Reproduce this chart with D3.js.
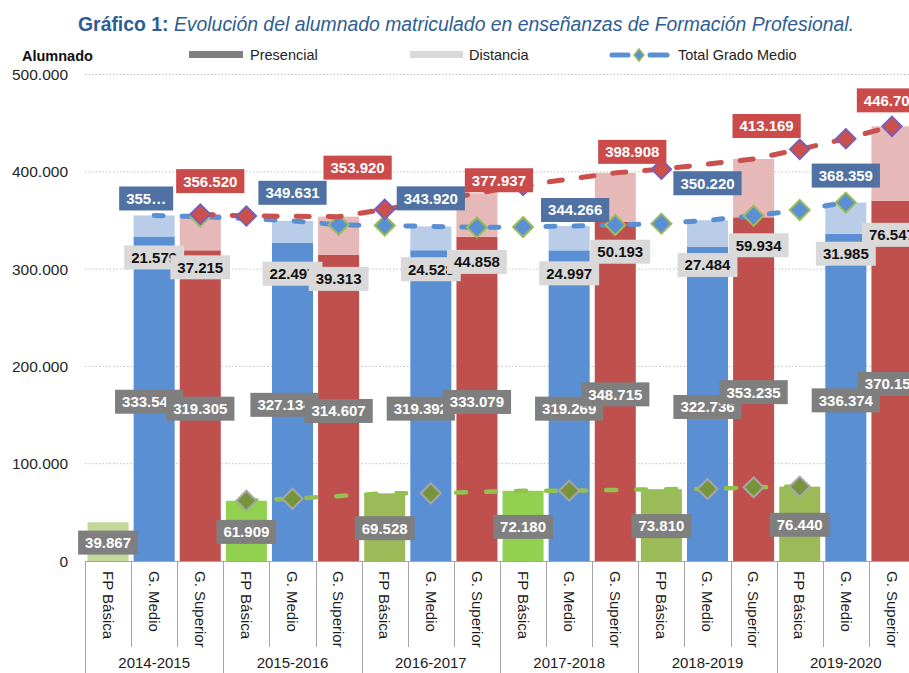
<!DOCTYPE html>
<html>
<head>
<meta charset="utf-8">
<script src="https://cdn.jsdelivr.net/npm/d3@7"></script>
<style>
  body { margin: 0; background: #fff; }
  svg { display: block; font-family: Arial, "Liberation Sans", sans-serif; }
</style>
</head>
<body>
<svg id="chart" width="909" height="673"></svg>
<script>
// ---- data ----
const years = ["2014-2015", "2015-2016", "2016-2017", "2017-2018", "2018-2019", "2019-2020"];
const levels = ["FP Básica", "G. Medio", "G. Superior"];

const fpBasica = [39867, 61909, 69528, 72180, 73810, 76440];
const medioPresencial = [333541, 327134, 319392, 319269, 322736, 336374];
const medioDistancia = [21579, 22497, 24528, 24997, 27484, 31985];
const superiorPresencial = [319305, 314607, 333079, 348715, 353235, 370157];
const superiorDistancia = [37215, 39313, 44858, 50193, 59934, 76547];

const yTicks = [0, 100000, 200000, 300000, 400000, 500000];

// dashed total lines: category index (0..17), value, marker shown
const lineMedioCats = [1, 2, 4, 5, 6, 7, 8, 9, 10, 11, 12, 13, 14, 15, 16];
const lineMedioVals = [355120, 354000, 349631, 345500, 344800, 343920, 342800, 343200, 344266, 345300, 346700, 350220, 354800, 360700, 368359];
const lineMedioMarks = [0, 1, 0, 1, 1, 0, 1, 1, 0, 1, 1, 0, 1, 1, 1];

const lineSuperiorCats = [2, 3, 5, 6, 8, 9, 11, 12, 14, 15, 16, 17];
const lineSuperiorVals = [356520, 354600, 353920, 361400, 377937, 386000, 398908, 402600, 413169, 423100, 434000, 446704];
const lineSuperiorMarks = [1, 1, 0, 1, 0, 1, 0, 1, 0, 1, 1, 1];

const lineBasicaCats = [3, 4, 6, 7, 9, 10, 12, 13, 14, 15];
const lineBasicaVals = [61909, 64000, 69528, 69600, 72180, 72300, 73810, 74000, 75750, 76440];
const lineBasicaMarks = [1, 1, 0, 1, 0, 1, 0, 1, 1, 1];

// ---- derived ----
const medioTotal = medioPresencial.map((v, i) => v + medioDistancia[i]);
const superiorTotal = superiorPresencial.map((v, i) => v + superiorDistancia[i]);

const fmt = d3.formatLocale({ decimal: ",", thousands: ".", grouping: [3], currency: ["", "€"] }).format(",d");
const medioTotalText = medioTotal.map(fmt);
medioTotalText[0] = "355…";

// ---- styles ----
const basicaColors = ["#c4d79b", "#92d050", "#9bbb59", "#92d050", "#9bbb59", "#9bbb59"];
const C = {
  medio: "#5a8fd3", medioLight: "#b9cde8",
  sup: "#c0504d", supLight: "#e6b9b8",
  lineMedio: "#5a8fd3", lineSup: "#c9504d", lineBas: "#92c14f",
  grayBox: "#7f7f7f", lightBox: "#d9d9d9",
  blueBox: "#4f71a3", redBox: "#cb4a4a",
  axis: "#a6a6a6", grid: "#bfbfbf", title: "#2f5d93"
};

// label nudges (px)
const presDx = { medio: [-5, -8, -10, 0, 0, 0], sup: [0, 0, 0, 0, 0, 0] };
const distDy = { medio: [21, 31, 19, 23, 18, 20], sup: [17, 24, 25, 30, 28, 34] };
const distDx = { medio: [0, 0, 0, 0, 0, 0], sup: [0, 0, 0, 5, 5, 0] };
const totDx = { medio: [-8, 0, 0, 6, 0, 0], sup: [10, 19, 22, 17, 13, -1] };
const totDy = { medio: [-17, -28, -28, -16, -37, -27], sup: [-33, -49, -13, -21, -33, -26] };

// ---- scales ----
const svg = d3.select("#chart");
const nCat = years.length * levels.length;
const x = d3.scaleBand().domain(d3.range(nCat)).range([85, 915]).paddingInner(0.11).paddingOuter(0.055);
const cx = i => x(i) + x.bandwidth() / 2;
const y = d3.scaleLinear().domain([0, 500000]).range([561, 74.5]);
const left = 85, right = 915, step = x.step();

// ---- title ----
const title = svg.append("text").attr("x", 78).attr("y", 31).attr("font-size", 19.4).attr("fill", C.title);
title.append("tspan").attr("font-weight", "bold").text("Gráfico 1:");
title.append("tspan").attr("font-style", "italic").text(" Evolución del alumnado matriculado en enseñanzas de Formación Profesional.");

// ---- y label and legend ----
svg.append("text").attr("x", 22).attr("y", 61).attr("font-size", 14.5).attr("font-weight", "bold").attr("fill", "#111").text("Alumnado");

const lg = svg.append("g").attr("font-size", 14.5).attr("fill", "#222");
lg.append("rect").attr("x", 189).attr("y", 51).attr("width", 54).attr("height", 7).attr("fill", C.grayBox);
lg.append("text").attr("x", 250).attr("y", 60).text("Presencial");
lg.append("rect").attr("x", 410).attr("y", 51).attr("width", 53).attr("height", 7).attr("fill", C.lightBox);
lg.append("text").attr("x", 469).attr("y", 60).text("Distancia");
lg.append("line").attr("x1", 612).attr("x2", 628).attr("y1", 55).attr("y2", 55).attr("stroke", C.lineMedio).attr("stroke-width", 5).attr("stroke-linecap", "round");
lg.append("line").attr("x1", 650).attr("x2", 667).attr("y1", 55).attr("y2", 55).attr("stroke", C.lineMedio).attr("stroke-width", 5).attr("stroke-linecap", "round");
lg.append("path").attr("d", "M0,-6L5,0L0,6L-5,0Z").attr("transform", "translate(639,55)").attr("fill", C.lineMedio).attr("stroke", "#9bbb59").attr("stroke-width", 1.5);
lg.append("text").attr("x", 678).attr("y", 60).text("Total Grado Medio");

// ---- grid + y tick labels ----
svg.append("g").selectAll("line").data(yTicks.filter(d => d > 0)).join("line")
  .attr("x1", left).attr("x2", 909).attr("y1", d => y(d)).attr("y2", d => y(d))
  .attr("stroke", C.grid).attr("stroke-dasharray", "1.5,2").attr("stroke-width", 1);
svg.append("g").selectAll("text").data(yTicks).join("text")
  .attr("x", 68).attr("y", d => y(d)).attr("dy", "0.36em").attr("text-anchor", "end")
  .attr("font-size", 15.5).attr("fill", "#262626").text(d => fmt(d));

// ---- bars ----
const rows = [];
years.forEach((yr, j) => {
  rows.push({ cat: 3 * j, pres: fpBasica[j], dist: 0, pc: basicaColors[j], dc: null });
  rows.push({ cat: 3 * j + 1, pres: medioPresencial[j], dist: medioDistancia[j], pc: C.medio, dc: C.medioLight });
  rows.push({ cat: 3 * j + 2, pres: superiorPresencial[j], dist: superiorDistancia[j], pc: C.sup, dc: C.supLight });
});
const bars = svg.append("g");
bars.selectAll("rect.p").data(rows).join("rect").attr("class", "p")
  .attr("x", d => x(d.cat)).attr("width", x.bandwidth())
  .attr("y", d => y(d.pres)).attr("height", d => y(0) - y(d.pres)).attr("fill", d => d.pc);
bars.selectAll("rect.d").data(rows.filter(d => d.dist > 0)).join("rect").attr("class", "d")
  .attr("x", d => x(d.cat)).attr("width", x.bandwidth())
  .attr("y", d => y(d.pres + d.dist)).attr("height", d => y(d.pres) - y(d.pres + d.dist)).attr("fill", d => d.dc);

// ---- x axis (two-level table) ----
const ax = svg.append("g").attr("stroke", C.axis).attr("stroke-width", 1);
ax.append("line").attr("x1", left).attr("x2", right).attr("y1", 561.5).attr("y2", 561.5);
d3.range(nCat + 1).forEach(k => {
  const xx = Math.round(left + k * step) + 0.5;
  ax.append("line").attr("x1", xx).attr("x2", xx).attr("y1", 561).attr("y2", k % 3 === 0 ? 673 : 647);
});
const xl = svg.append("g").attr("font-size", 15).attr("fill", "#1a1a1a");
d3.range(nCat).forEach(i => {
  xl.append("text").attr("transform", `translate(${cx(i)},571) rotate(90)`)
    .attr("dy", "0.35em").text(levels[i % 3]);
});
years.forEach((yr, j) => {
  xl.append("text").attr("x", left + (3 * j + 1.5) * step).attr("y", 668)
    .attr("text-anchor", "middle").text(yr);
});

// ---- dashed lines with diamond markers ----
function drawLine(cats, vals, marks, color, width, dash, mFill, mStroke, mStrokeW) {
  const pts = cats.map((c, i) => ({ c, v: vals[i], m: marks[i] }));
  const g = svg.append("g");
  g.append("path").datum(pts)
    .attr("d", d3.line().x(d => cx(d.c)).y(d => y(d.v)))
    .attr("fill", "none").attr("stroke", color).attr("stroke-width", width)
    .attr("stroke-dasharray", dash).attr("stroke-linecap", "round");
  g.selectAll("path.m").data(pts.filter(d => d.m)).join("path").attr("class", "m")
    .attr("d", "M0,-10L10,0L0,10L-10,0Z")
    .attr("transform", d => `translate(${cx(d.c)},${y(d.v)})`)
    .attr("fill", mFill).attr("stroke", mStroke).attr("stroke-width", mStrokeW);
}
drawLine(lineBasicaCats, lineBasicaVals, lineBasicaMarks, C.lineBas, 4.5, "10,20", "#77933c", "#a6a6a6", 2);
drawLine(lineMedioCats, lineMedioVals, lineMedioMarks, C.lineMedio, 5, "9,19", C.lineMedio, "#9bbb59", 2);
drawLine(lineSuperiorCats, lineSuperiorVals, lineSuperiorMarks, C.lineSup, 5, "13,19", C.lineSup, "#6a5fd0", 1.5);

// ---- data labels ----
const labels = svg.append("g").attr("font-size", 15).attr("font-weight", "bold");
function label(text, lx, ly, fill, color, padX) {
  const g = labels.append("g");
  const r = g.append("rect");
  const t = g.append("text").attr("x", lx).attr("y", ly).attr("dy", "0.36em")
    .attr("text-anchor", "middle").attr("fill", color).text(text);
  const w = t.node().getComputedTextLength() + 2 * padX;
  r.attr("x", lx - w / 2).attr("y", ly - 12).attr("width", w).attr("height", 24).attr("fill", fill);
}
// presencial (middle of the solid segment)
years.forEach((yr, j) => {
  label(fmt(fpBasica[j]), cx(3 * j), y(fpBasica[j] / 2) + 1, C.grayBox, "#fff", 7);
  label(fmt(medioPresencial[j]), cx(3 * j + 1) + presDx.medio[j], y(medioPresencial[j] / 2) + 3, C.grayBox, "#fff", 7);
  label(fmt(superiorPresencial[j]), cx(3 * j + 2) + presDx.sup[j], y(superiorPresencial[j] / 2) + 3, C.grayBox, "#fff", 7);
});
// distancia
years.forEach((yr, j) => {
  label(fmt(medioDistancia[j]), cx(3 * j + 1) + distDx.medio[j], y(medioPresencial[j]) + distDy.medio[j], C.lightBox, "#111", 7);
  label(fmt(superiorDistancia[j]), cx(3 * j + 2) + distDx.sup[j], y(superiorPresencial[j]) + distDy.sup[j], C.lightBox, "#111", 7);
});
// totals
years.forEach((yr, j) => {
  label(medioTotalText[j], cx(3 * j + 1) + totDx.medio[j], y(medioTotal[j]) + totDy.medio[j], C.blueBox, "#fff", 7);
  label(fmt(superiorTotal[j]), cx(3 * j + 2) + totDx.sup[j], y(superiorTotal[j]) + totDy.sup[j], C.redBox, "#fff", 7);
});
</script>
</body>
</html>
